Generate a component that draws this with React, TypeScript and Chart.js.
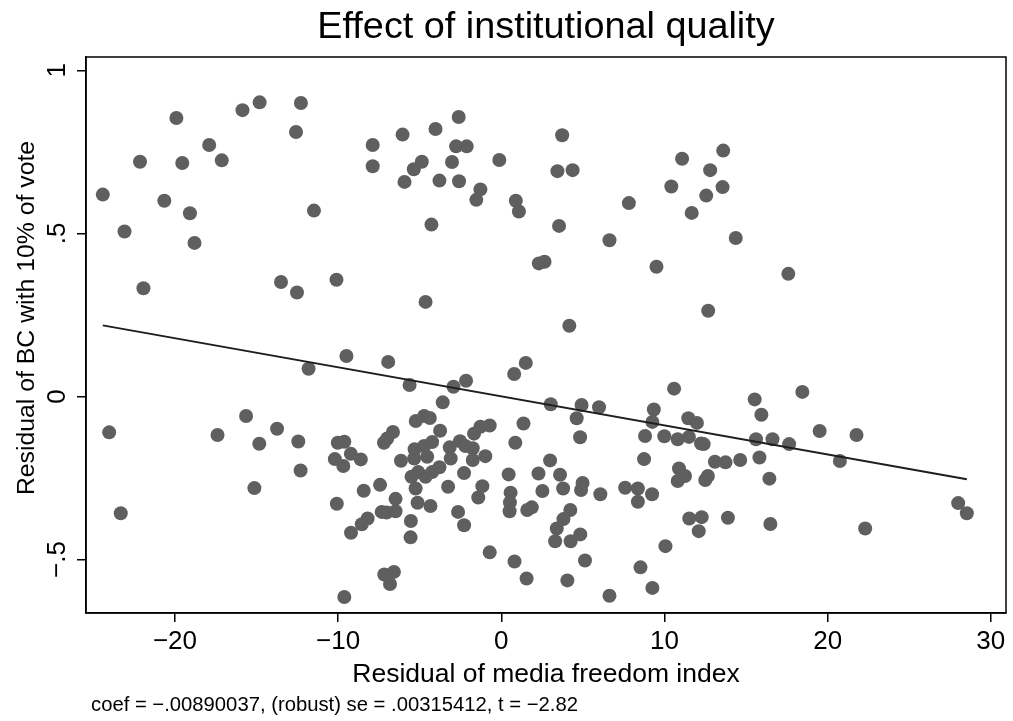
import React, { useEffect, useRef } from "react";
import { Chart, registerables } from "chart.js";

Chart.register(...registerables);

const titleText = "Effect of institutional quality";
const xTitle = "Residual of media freedom index";
const yTitle = "Residual of BC with 10% of vote";
const noteText = "coef = \u2212.00890037, (robust) se = .00315412, t = \u22122.82";

const xTicks = [-20, -10, 0, 10, 20, 30];
const yTicks = [-0.5, 0, 0.5, 1];
const yTickLabels = ["\u2212.5", "0", ".5", "1"];

const xRange = [-25.45, 30.93];
const yRange = [-0.664, 1.041];

// Residual of media freedom index
const mediaResid = [
  -19.91, -15.86, -14.81, -12.28, -12.58, -17.9, -22.14, -19.55, -17.13, -24.42, -20.65, -19.08, -11.48, -23.09, -18.8, -21.93, -13.5, -12.52,
  -2.61, -4.03, -6.05, -7.88, -7.88, -2.77, -2.12, -4.87, -5.36, -3.02, -5.93, -3.79, -2.59, -1.28, -1.53, -0.12, 0.89, 1.08, -4.28, -10.1, -4.64, 2.3, 2.65,
  3.73, 3.44, 4.37, 3.54, 4.17, 7.82, 6.63, 9.51, 11.08, 13.6, 12.8, 10.42, 13.56, 12.56, 11.67, 14.37, 12.68, 17.59,
  -11.81, -24.03, -17.39, -15.64, -13.74, -14.83, -12.44, -12.3, -15.13, -23.32,
  -9.49, -6.93, -5.62, -2.93, -2.16, 0.79, 1.5, 3.03, -3.59, -5.24, -4.73, -4.38, -3.75, -6.64, -6.99, -7.19, -10.02, -9.62, -9.22, -10.2, -9.68, -8.61,
  -6.15, -5.31, -4.73, -4.24, -4.54, -5.34, -3.16, -2.53, -2.2, -1.75, -1.75, -3.1, -0.98, -1.67, -1.28, -0.71, 1.36, 0.86, -3.79, -4.24, -4.64, -5.09,
  -5.5, -5.25, -2.28, -3.26, -1.16, -1.41, 0.45, 0.57, 0.53, 0.51, 1.59, 1.87, 2.28, 2.99, 2.52, -7.43, -8.43, -10.08, -6.48, -5.13, -4.34, -7.33, -7.03,
  -6.48, -8.19, -8.55, -9.21, -5.54, -5.56, -2.65, -2.28, -0.71, 0.81, 1.55, -7.17, -6.58, -6.82, -9.62,
  4.92, 5.99, 4.62, 4.83, 10.59, 9.35, 9.26, 8.81, 9.99, 10.81, 11.5, 11.46, 11.99, 12.24, 12.4, 15.53, 15.94, 15.61, 16.62, 17.64, 15.82, 14.64, 13.74,
  13.09, 10.89, 11.26, 10.81, 12.66, 12.5, 16.43, 8.75, 3.6, 3.79, 4.98, 4.89, 6.07, 7.59, 8.37, 8.37, 9.24, 4.23, 3.81, 3.4, 3.3, 4.25, 4.84, 5.13,
  4.05, 6.63, 8.53, 9.26, 10.06, 11.52, 12.28, 12.1, 13.89, 16.49,
  18.45, 19.51, 21.77, 20.75, 22.3, 28.0, 28.53,
];

// Residual of BC with 10% of vote
const bcResid = [
  0.854, 0.878, 0.902, 0.9, 0.811, 0.771, 0.72, 0.716, 0.724, 0.619, 0.6, 0.562, 0.57, 0.506, 0.471, 0.332, 0.351, 0.319,
  0.857, 0.82, 0.803, 0.771, 0.706, 0.767, 0.767, 0.72, 0.697, 0.719, 0.658, 0.662, 0.66, 0.635, 0.603, 0.725, 0.6, 0.567, 0.527, 0.358, 0.29, 0.408, 0.413,
  0.801, 0.691, 0.694, 0.523, 0.217, 0.593, 0.479, 0.398, 0.729, 0.754, 0.694, 0.644, 0.642, 0.616, 0.563, 0.486, 0.263, 0.376,
  0.085, -0.11, -0.118, -0.06, -0.099, -0.145, -0.138, -0.227, -0.281, -0.358,
  0.124, 0.106, 0.035, 0.03, 0.048, 0.069, 0.103, -0.024, -0.018, -0.075, -0.06, -0.066, -0.105, -0.109, -0.129, -0.142, -0.142, -0.139, -0.176, -0.192, -0.213, -0.193,
  -0.197, -0.162, -0.152, -0.14, -0.185, -0.19, -0.156, -0.137, -0.152, -0.159, -0.195, -0.19, -0.183, -0.114, -0.093, -0.089, -0.083, -0.142, -0.217, -0.232, -0.246, -0.232,
  -0.246, -0.282, -0.235, -0.277, -0.275, -0.31, -0.239, -0.295, -0.325, -0.352, -0.348, -0.34, -0.236, -0.196, -0.29, -0.271, -0.289, -0.329, -0.314, -0.326, -0.336, -0.354, -0.356,
  -0.352, -0.374, -0.392, -0.418, -0.382, -0.432, -0.354, -0.395, -0.478, -0.506, -0.558, -0.546, -0.538, -0.575, -0.615,
  -0.026, -0.033, -0.067, -0.125, 0.024, -0.04, -0.078, -0.121, -0.122, -0.131, -0.124, -0.067, -0.081, -0.144, -0.146, -0.009, -0.056, -0.131, -0.131, -0.146, -0.187, -0.195, -0.202,
  -0.2, -0.221, -0.244, -0.259, -0.244, -0.256, -0.252, -0.192, -0.24, -0.282, -0.265, -0.287, -0.3, -0.28, -0.282, -0.323, -0.3, -0.348, -0.376, -0.405, -0.444, -0.444, -0.423, -0.503,
  -0.564, -0.611, -0.524, -0.587, -0.459, -0.374, -0.37, -0.413, -0.372, -0.391,
  0.014, -0.106, -0.118, -0.198, -0.405, -0.327, -0.358,
];

// Fitted line end points
const fitX = [-24.42, 28.53];
const fitY = [0.218, -0.254];

const FONT = "'Liberation Sans', Arial, Helvetica, sans-serif";

const fmtNum = (v: number) => (v < 0 ? "\u2212" + Math.abs(v) : String(v));

const decorPlugin = {
  id: "decor",
  afterDraw(chart: any) {
    const { ctx, chartArea: a, scales } = chart;
    ctx.save();
    ctx.strokeStyle = "#000";
    ctx.lineWidth = 1.5;
    ctx.strokeRect(a.left, a.top, a.right - a.left, a.bottom - a.top);

    ctx.fillStyle = "#000";
    ctx.textAlign = "center";
    ctx.textBaseline = "middle";
    ctx.font = `37.8px ${FONT}`;
    ctx.fillText(titleText, (a.left + a.right) / 2, 28);

    ctx.font = `26px ${FONT}`;
    const ys = scales.y;
    yTicks.forEach((v, i) => {
      const p = ys.getPixelForValue(v);
      ctx.save();
      ctx.translate(58, p);
      ctx.rotate(-Math.PI / 2);
      ctx.fillText(yTickLabels[i], 0, 0);
      ctx.restore();
    });

    // y axis title
    ctx.save();
    ctx.font = `24.8px ${FONT}`;
    ctx.translate(27, 318);
    ctx.rotate(-Math.PI / 2);
    ctx.fillText(yTitle, 0, 0);
    ctx.restore();

    ctx.font = `20.25px ${FONT}`;
    ctx.textAlign = "left";
    ctx.fillText(noteText, 91, 705);
    ctx.restore();
  },
};

export default function App() {
  const ref = useRef<HTMLCanvasElement | null>(null);

  useEffect(() => {
    if (!ref.current) return;
    const points = mediaResid.map((x, i) => ({ x, y: bcResid[i] }));
    const fit = fitX.map((x, i) => ({ x, y: fitY[i] }));
    const chart = new Chart(ref.current, {
      type: "scatter",
      data: {
        datasets: [
          {
            type: "line",
            data: fit,
            borderColor: "#1e1e1e",
            borderWidth: 2,
            pointRadius: 0,
            fill: false,
            order: 0,
          } as any,
          {
            data: points,
            backgroundColor: "#5f5f5f",
            borderWidth: 0,
            pointRadius: 7,
            pointHoverRadius: 7,
            order: 1,
          },
        ],
      },
      options: {
        animation: false,
        responsive: false,
        devicePixelRatio: 1,
        events: [],
        layout: { padding: { top: 57, right: 4, left: 0, bottom: 0 } },
        plugins: {
          legend: { display: false },
          title: { display: false },
          tooltip: { enabled: false },
        },
        scales: {
          x: {
            type: "linear",
            position: "bottom",
            min: xRange[0],
            max: xRange[1],
            afterBuildTicks: (s: any) => {
              s.ticks = xTicks.map((v) => ({ value: v }));
            },
            afterFit: (s: any) => {
              s.height = 108;
              s.paddingLeft = 0;
              s.paddingRight = 0;
            },
            grid: {
              display: true,
              drawOnChartArea: false,
              drawTicks: true,
              tickLength: 9,
              color: "#000",
              lineWidth: 1.5,
            },
            border: { display: true, color: "#000", width: 1.5 },
            ticks: {
              color: "#000",
              font: { size: 26, family: FONT },
              padding: 4,
              maxRotation: 0,
              autoSkip: false,
              callback: (v: any) => fmtNum(Number(v)),
            },
            title: {
              display: true,
              text: xTitle,
              color: "#000",
              font: { size: 26.5, family: FONT },
              padding: { top: 0, bottom: 30 },
            },
          },
          y: {
            type: "linear",
            position: "left",
            min: yRange[0],
            max: yRange[1],
            afterBuildTicks: (s: any) => {
              s.ticks = yTicks.map((v) => ({ value: v }));
            },
            afterFit: (s: any) => {
              s.width = 86;
              s.paddingTop = 0;
              s.paddingBottom = 0;
            },
            grid: {
              display: true,
              drawOnChartArea: false,
              drawTicks: true,
              tickLength: 9,
              color: "#000",
              lineWidth: 1.5,
            },
            border: { display: true, color: "#000", width: 1.5 },
            ticks: { display: false },
            title: { display: false },
          },
        },
      },
      plugins: [decorPlugin],
    });
    return () => chart.destroy();
  }, []);

  return (
    <div style={{ position: "absolute", left: 0, top: 0, width: 1013, height: 721, background: "#fff" }}>
      <canvas ref={ref} width={1013} height={721} style={{ width: 1013, height: 721, display: "block" }} />
    </div>
  );
}
